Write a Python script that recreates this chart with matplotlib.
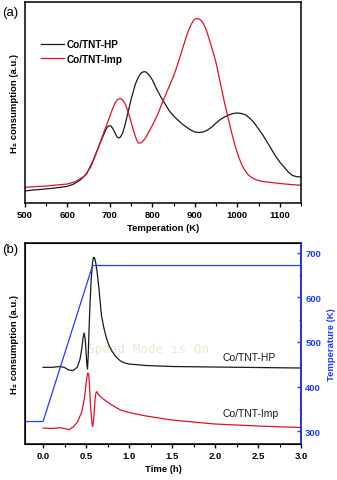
import matplotlib
matplotlib.use("Agg")
import matplotlib.pyplot as plt
from matplotlib.ticker import MultipleLocator

# ---------------- data: panel (a) TPR ----------------
temp_hp = [500, 520, 540, 560, 580, 600, 615, 630, 645, 660, 675, 685, 690, 694, 698, 702, 706,
           712, 717, 721, 725, 730, 735, 740, 750, 760, 765, 770, 775, 780, 785, 790, 795,
           800, 810, 820, 830, 840, 850, 860, 870, 880, 890, 900, 910, 920, 930, 940, 950,
           960, 970, 980, 990, 1000, 1010, 1020, 1030, 1040, 1050, 1060, 1070, 1080, 1090,
           1100, 1110, 1120, 1130, 1140, 1150]
h2_hp = [12, 13, 13.7, 14.5, 15.5, 16.7, 19, 23, 29, 42, 58, 68, 73, 76, 77.3, 77, 75,
         70, 66, 65, 66, 70, 77, 86, 104, 119, 124, 128, 130.5, 131.3, 131, 129, 126.5,
         123, 114, 106, 99, 92, 87, 83, 79, 76, 73, 71, 70.5, 71, 73, 76, 80,
         83.5, 86, 88, 89.5, 90, 89.5, 88, 84.5, 80, 74, 68, 61, 54, 47,
         41, 36, 31, 27.5, 26.3, 26]

temp_imp = [500, 550, 600, 620, 640, 655, 670, 685, 694, 700, 706, 712, 718, 724, 730, 736,
            742, 748, 753, 758, 763, 767, 772, 777, 784, 790, 798, 805, 814, 822, 831, 840,
            848, 855, 862, 870, 876, 882, 887, 892, 896, 900, 905, 910, 915, 920, 925, 930,
            935, 940, 945, 950, 955, 960, 965, 970, 975, 980, 985, 990, 995, 1000, 1006,
            1012, 1018, 1025, 1032, 1040, 1050, 1060, 1080, 1100, 1125, 1150]
h2_imp = [15.7, 17, 19, 21.5, 27, 36, 52, 70, 80, 87, 94, 100, 103.5, 104.5, 103, 99,
          92, 84, 76, 69, 63, 60, 60, 61.5, 65, 70, 76, 82, 90, 99, 108, 117,
          125, 133, 142, 153, 161, 169, 174.5, 179, 182, 184, 184.5, 184, 182.5, 179.5, 175, 169,
          162, 155, 148, 140, 130, 120, 110, 100, 91, 82, 73, 65, 57, 50, 43,
          37, 32.5, 28.5, 26, 24, 22.5, 21.5, 20.5, 19.5, 18.5, 17.7]

# ---------------- data: panel (b) isothermal ----------------
time_hp = [0.0, 0.1, 0.2, 0.25, 0.3, 0.35, 0.4, 0.43, 0.45, 0.465, 0.478, 0.49, 0.5, 0.51,
           0.517, 0.525, 0.535, 0.545, 0.56, 0.575, 0.585, 0.594, 0.605, 0.615, 0.63, 0.65,
           0.68, 0.71, 0.74, 0.77, 0.8, 0.85, 0.9, 0.95, 1.0, 1.2, 1.5, 2.0, 2.5, 3.0]
sig_hp = [76.7, 76.7, 77.5, 76.5, 74, 73.5, 77, 85, 95, 106, 111, 105, 92, 79,
          75, 88, 115, 138, 165, 181, 186, 186.7, 184.5, 180, 171, 155,
          128, 115, 105, 98, 93, 87, 83, 81, 80, 78.5, 77.5, 77, 76.5, 76]

time_imp = [0.0, 0.1, 0.2, 0.25, 0.3, 0.35, 0.4, 0.45, 0.48, 0.5, 0.51, 0.52, 0.53, 0.54,
            0.55, 0.56, 0.57, 0.577, 0.585, 0.595, 0.605, 0.615, 0.625, 0.64, 0.66, 0.7,
            0.8, 0.9, 1.0, 1.2, 1.5, 2.0, 2.5, 3.0]
sig_imp = [16, 15.5, 16.3, 15.5, 14.3, 17, 22, 32, 45, 60, 67, 71, 70, 58,
           42, 30, 20, 17.7, 22, 32, 45, 51, 52.3, 50, 48, 45,
           39, 34, 31.5, 28, 24, 20, 18, 16.5]

time_T = [-0.21, 0.0, 0.576, 3.0]
temp_T = [321.5, 321.5, 671.5, 671.5]

BLACK = "#1a1a1a"
RED = "#e0102a"
BLUE = "#1f3cff"

plt.rcParams['font.family'] = ['Liberation Sans', 'DejaVu Sans']

fig = plt.figure(figsize=(3.37, 4.81), dpi=100)

# ---------------- panel (a) ----------------
axa = fig.add_axes([0.0742, 0.5759, 0.8190, 0.4179])
axa.plot(temp_hp, h2_hp, color=BLACK, lw=0.9, label="Co/TNT-HP")
axa.plot(temp_imp, h2_imp, color=RED, lw=0.9, label="Co/TNT-Imp")
axa.set_xlim(500, 1150)
axa.set_ylim(0, 201)
axa.xaxis.set_major_locator(MultipleLocator(100))
axa.xaxis.set_minor_locator(MultipleLocator(50))
axa.set_yticks([])
axa.tick_params(axis='x', which='major', direction='out', length=3, width=1,
                labelsize=6.8, pad=2)
axa.tick_params(axis='x', which='minor', direction='out', length=1.8, width=0.8)
for lab in axa.get_xticklabels():
    lab.set_fontweight('bold')
for s in axa.spines.values():
    s.set_linewidth(1.1)
axa.set_xlabel("Temperation (K)", fontsize=6.8, fontweight='bold', labelpad=3)
axa.set_ylabel("H\u2082 consumption (a.u.)", fontsize=6.8, fontweight='bold', labelpad=4)
leg = axa.legend(loc='upper left', bbox_to_anchor=(0.045, 0.835), frameon=False,
                 prop={'size': 7.2, 'weight': 'bold'}, handlelength=2.3,
                 handletextpad=0.25, labelspacing=0.45, borderaxespad=0)
fig.text(0.005, 0.972, "(a)", fontsize=9.5, ha='left', va='center')

# ---------------- panel (b) ----------------
axb = fig.add_axes([0.0742, 0.0748, 0.8190, 0.4179])
axb.plot(time_hp, sig_hp, color=BLACK, lw=0.9)
axb.plot(time_imp, sig_imp, color=RED, lw=0.9)
axb.set_xlim(-0.21, 3.0)
axb.set_ylim(0, 201)
axb.xaxis.set_major_locator(MultipleLocator(0.5))
axb.xaxis.set_minor_locator(MultipleLocator(0.25))
axb.set_yticks([])
axb.tick_params(axis='x', which='major', direction='out', length=3, width=1,
                labelsize=6.8, pad=2)
axb.tick_params(axis='x', which='minor', direction='out', length=1.8, width=0.8)
for lab in axb.get_xticklabels():
    lab.set_fontweight('bold')
for s in axb.spines.values():
    s.set_linewidth(1.1)
axb.set_xlabel("Time (h)", fontsize=6.8, fontweight='bold', labelpad=3)
axb.set_ylabel("H\u2082 consumption (a.u.)", fontsize=6.8, fontweight='bold', labelpad=4)
axb.text(0.717, 0.433, "Co/TNT-HP", transform=axb.transAxes, fontsize=7.5,
         ha='left', va='center', color=BLACK)
axb.text(0.717, 0.154, "Co/TNT-Imp", transform=axb.transAxes, fontsize=7.5,
         ha='left', va='center', color=BLACK)
axb.text(0.225, 0.475, "Speed Mode is On", transform=axb.transAxes, fontsize=9.2,
         family='DejaVu Sans Mono', color='#e4ecd6', ha='left', va='center', zorder=0)
fig.text(0.005, 0.48, "(b)", fontsize=9.5, ha='left', va='center')

axt = axb.twinx()
axt.plot(time_T, temp_T, color=BLUE, lw=0.9)
axt.set_ylim(271, 722)
axt.yaxis.set_major_locator(MultipleLocator(100))
axt.yaxis.set_minor_locator(MultipleLocator(50))
axt.tick_params(axis='y', which='major', direction='in', length=3, width=1,
                colors=BLUE, labelsize=6.8, pad=3)
axt.tick_params(axis='y', which='minor', direction='in', length=1.8, width=0.8,
                colors=BLUE)
for lab in axt.get_yticklabels():
    lab.set_fontweight('bold')
axt.spines['right'].set_color(BLUE)
axt.spines['right'].set_linewidth(1.1)
axt.set_ylabel("Temperature (K)", fontsize=6.8, fontweight='bold', color=BLUE, labelpad=4)

fig.savefig("out.png", dpi=100)
